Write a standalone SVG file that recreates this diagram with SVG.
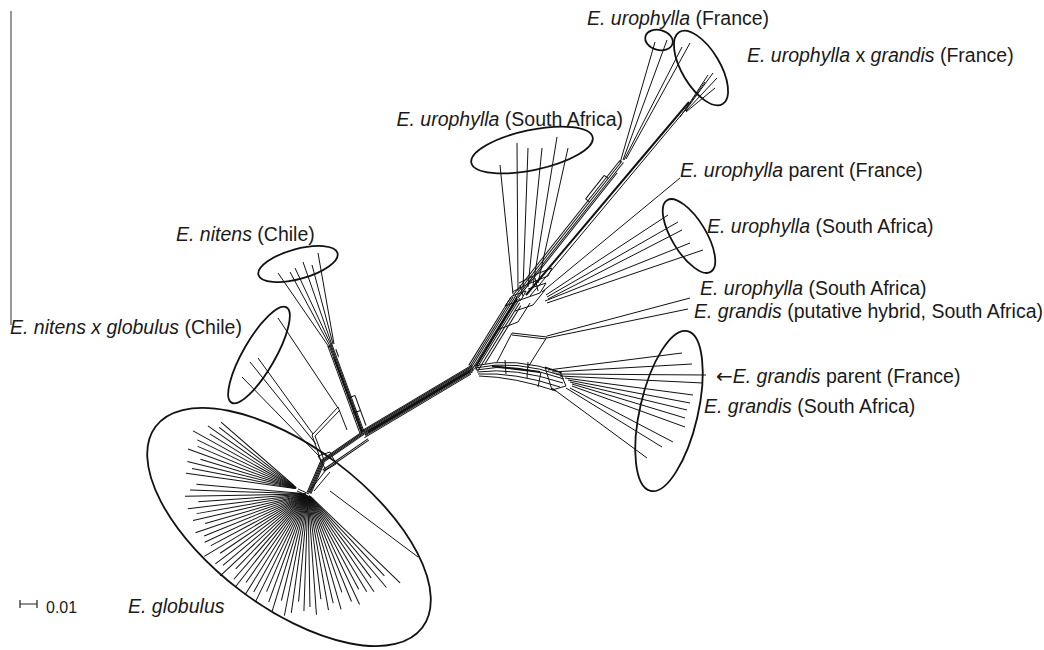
<svg xmlns="http://www.w3.org/2000/svg" width="1044" height="650" viewBox="0 0 1044 650">
<style>
.n{stroke:#111;stroke-width:1;fill:none}
.k{stroke:#111;stroke-width:2;fill:none}
.e{stroke:#111;stroke-width:1.8;fill:none}
.t{font-family:"Liberation Sans",Arial,sans-serif;font-size:19.5px;fill:#1a1a1a}
.i{font-style:italic}
</style>
<rect width="1044" height="650" fill="#fff"/>
<line x1="11" y1="11" x2="11" y2="325" stroke="#555" stroke-width="1.2"/>

<g id="connectors">
  <!-- globulus fan (main hub) -->
  <g class="n" transform="translate(308,494)">
    <line x1="3" x2="128" transform="rotate(44)"/>
    <line x1="5" x2="112" transform="rotate(47)"/>
    <line x1="2" x2="122" transform="rotate(50)"/>
    <line x1="6" x2="105" transform="rotate(53)"/>
    <line x1="3" x2="118" transform="rotate(56)"/>
    <line x1="4" x2="114" transform="rotate(59)"/>
    <line x1="2" x2="108" transform="rotate(62)"/>
    <line x1="5" x2="122" transform="rotate(65)"/>
    <line x1="3" x2="116" transform="rotate(68)"/>
    <line x1="6" x2="104" transform="rotate(71)"/>
    <line x1="2" x2="120" transform="rotate(74)"/>
    <line x1="4" x2="112" transform="rotate(77)"/>
    <line x1="3" x2="118" transform="rotate(80)"/>
    <line x1="5" x2="106" transform="rotate(83)"/>
    <line x1="2" x2="121" transform="rotate(86)"/>
    <line x1="4" x2="113" transform="rotate(89)"/>
    <line x1="3" x2="117" transform="rotate(92)"/>
    <line x1="6" x2="108" transform="rotate(95)"/>
    <line x1="2" x2="120" transform="rotate(98)"/>
    <line x1="4" x2="124" transform="rotate(101)"/>
    <line x1="3" x2="110" transform="rotate(104)"/>
    <line x1="5" x2="123" transform="rotate(107)"/>
    <line x1="2" x2="115" transform="rotate(110)"/>
    <line x1="6" x2="106" transform="rotate(113)"/>
    <line x1="3" x2="120" transform="rotate(116)"/>
    <line x1="4" x2="112" transform="rotate(119)"/>
    <line x1="2" x2="119" transform="rotate(122)"/>
    <line x1="5" x2="108" transform="rotate(125)"/>
    <line x1="3" x2="118" transform="rotate(128)"/>
    <line x1="4" x2="113" transform="rotate(131)"/>
    <line x1="6" x2="104" transform="rotate(134)"/>
    <line x1="2" x2="120" transform="rotate(137)"/>
    <line x1="4" x2="111" transform="rotate(140)"/>
    <line x1="3" x2="116" transform="rotate(143)"/>
    <line x1="5" x2="106" transform="rotate(146)"/>
    <line x1="2" x2="121" transform="rotate(149)"/>
    <line x1="4" x2="110" transform="rotate(152)"/>
    <line x1="3" x2="114" transform="rotate(155)"/>
    <line x1="5" x2="112" transform="rotate(158)"/>
    <line x1="2" x2="119" transform="rotate(161)"/>
    <line x1="4" x2="107" transform="rotate(164)"/>
    <line x1="3" x2="118" transform="rotate(167)"/>
    <line x1="5" x2="113" transform="rotate(170)"/>
    <line x1="2" x2="121" transform="rotate(173)"/>
    <line x1="4" x2="110" transform="rotate(176)"/>
    <line x1="3" x2="123" transform="rotate(179)"/>
    <line x1="5" x2="118" transform="rotate(182)"/>
    <line x1="2" x2="112" transform="rotate(185)"/>
  </g>
  <g class="n" transform="translate(298,489)">
    <line x1="3" x2="113" transform="rotate(188)"/>
    <line x1="2" x2="108" transform="rotate(191)"/>
    <line x1="4" x2="114" transform="rotate(194)"/>
    <line x1="2" x2="102" transform="rotate(197)"/>
    <line x1="3" x2="117" transform="rotate(200)"/>
    <line x1="5" x2="109" transform="rotate(203)"/>
    <line x1="2" x2="112" transform="rotate(206)"/>
    <line x1="3" x2="120" transform="rotate(209)"/>
    <line x1="4" x2="104" transform="rotate(212)"/>
    <line x1="2" x2="110" transform="rotate(215)"/>
    <line x1="3" x2="100" transform="rotate(218)"/>
    <line x1="5" x2="102" transform="rotate(221)"/>
  </g>
  <line class="n" x1="330" y1="491" x2="418" y2="557"/>
  <line class="n" x1="298" y1="489" x2="309" y2="494"/>
  <line class="n" x1="297" y1="491" x2="308" y2="496"/>

  <!-- hub to box -->
  <g class="n" transform="translate(309,493) rotate(-66.6)">
    <line x2="34" y1="-2" y2="-2"/><line x2="34" y1="-1" y2="-1"/><line x2="34"/><line x2="34" y1="1" y2="1"/><line x2="34" y1="2" y2="2"/>
  </g>
  <g class="n" transform="translate(322,462) rotate(-34.6)">
    <line x2="51" y1="-2" y2="-2"/><line x2="51" y1="-1" y2="-1"/><line x2="51"/><line x2="51" y1="1" y2="1"/>
    <line x1="-4" x2="51" y1="7" y2="7"/><line x1="-4" x2="51" y1="8.5" y2="8.5"/>
  </g>
  <path class="n" d="M321,461 L312,435 L338,407 L347,430"/>
  <path class="n" d="M324,460 L315,436 L340,410"/>
  <path class="n" d="M318,456 L330,452 L336,464 L326,470 Z"/>
  <line class="n" x1="311" y1="489" x2="326" y2="470"/>
  <line class="n" x1="314" y1="491" x2="330" y2="472"/>

  <!-- main stem -->
  <g class="n" transform="translate(364,433) rotate(-30.8)">
    <line x2="127" y1="-3" y2="-3"/><line x2="127" y1="-2" y2="-2"/><line x2="127" y1="-1" y2="-1"/><line x2="127"/><line x2="127" y1="1" y2="1"/><line x2="127" y1="2" y2="2"/><line x2="125" y1="3" y2="3"/><line x1="-2" x2="122" y1="4.2" y2="4.2"/>
  </g>
  <line x1="368" y1="432" x2="470" y2="371" stroke="#111" stroke-width="2.2"/>

  <!-- nitens stem -->
  <g class="n" transform="translate(330,345) rotate(69.8)">
    <line x2="93" y1="-2" y2="-2"/><line x2="93" y1="-1" y2="-1"/><line x2="93"/><line x2="93" y1="1" y2="1"/><line x2="93" y1="2.4" y2="2.4"/>
    <line x1="56" x2="88" y1="-6" y2="-6"/><line x1="56" x2="56" y1="-6" y2="2"/><line x1="72" x2="72" y1="-6" y2="2"/>
    <line x1="6" x2="14" y1="-4" y2="-4"/>
  </g>
  <line x1="334" y1="358" x2="362" y2="432" stroke="#111" stroke-width="1.6"/>

  <!-- nitens fan -->
  <g class="n">
    <line x1="278" y1="273" x2="329" y2="347"/>
    <line x1="290" y1="272" x2="330" y2="346"/>
    <line x1="295" y1="268" x2="331" y2="345"/>
    <line x1="303" y1="262" x2="332" y2="345"/>
    <line x1="312" y1="265" x2="333" y2="344"/>
    <line x1="318" y1="253" x2="334" y2="344"/>
  </g>

  <!-- nitens x globulus lines -->
  <g class="n">
    <line x1="278" y1="318" x2="338" y2="408"/>
    <line x1="258" y1="358" x2="313" y2="434"/>
    <line x1="250" y1="362" x2="316" y2="444"/>
    <line x1="242" y1="377" x2="320" y2="457"/>
  </g>

  <!-- up branch J3 -> P2 -->
  <g class="n" transform="translate(473,368) rotate(-58.3)">
    <line x2="80" y1="-5" y2="-5"/><line x2="82" y1="-3.3" y2="-3.3"/><line x2="84" y1="-1.7" y2="-1.7"/><line x2="84"/><line x2="82" y1="1.7" y2="1.7"/><line x2="84" y1="3.3" y2="3.3"/><line x2="80" y1="5.5" y2="5.5"/><line x1="10" x2="78" y1="8" y2="8"/>
  </g>
  <line x1="476" y1="366" x2="517" y2="298" stroke="#111" stroke-width="1.8"/>
  <!-- tangle near P2 -->
  <g class="n">
    <path d="M505,306 L521,300 L526,291 L512,296 Z"/>
    <path d="M512,292 L528,284 L533,276 L519,283"/>
    <path d="M520,300 L540,293 L546,283 L528,289"/>
    <path d="M528,284 L548,276 L552,268 L534,275"/>
    <path d="M497,330 L518,322 L530,303"/>
    <path d="M515,311 L533,305 L545,290"/>
    <line x1="523" y1="296" x2="520" y2="285"/>
    <line x1="538" y1="291" x2="535" y2="278"/>
  </g>
  <!-- thin bundle to France -->
  <g class="n" transform="translate(515,296) rotate(-51.6)">
    <line x2="172" y1="-2" y2="-2"/><line x2="172"/><line x2="172" y1="2" y2="2"/><line x2="160" y1="3.5" y2="3.5"/>
    <line x1="120" x2="150" y1="-5" y2="-5"/><line x1="120" x2="120" y1="-5" y2="0"/><line x1="150" x2="150" y1="-5" y2="0"/>
  </g>
  <line x1="526" y1="295" x2="689" y2="102" class="k"/>
  <line x1="530" y1="296" x2="687" y2="108" class="n"/>
  <!-- France / x grandis tips -->
  <g class="n">
    <line x1="620" y1="163" x2="655" y2="42"/>
    <line x1="623" y1="160" x2="667" y2="40"/>
    <line x1="624" y1="160" x2="682" y2="47"/>
    <line x1="626" y1="159" x2="690" y2="43"/>
    <line x1="685" y1="110" x2="708" y2="75"/>
    <line x1="685" y1="111" x2="713" y2="73"/>
    <line x1="686" y1="111" x2="717" y2="78"/>
    <line x1="686" y1="112" x2="715" y2="88"/>
    <line x1="680" y1="117" x2="705" y2="82"/>
  </g>
  <!-- urophylla SA (top) fan -->
  <g class="n">
    <line x1="500" y1="165" x2="513" y2="294"/>
    <line x1="517" y1="143" x2="518" y2="291"/>
    <line x1="528" y1="148" x2="523" y2="289"/>
    <line x1="542" y1="148" x2="528" y2="287"/>
    <line x1="557" y1="137" x2="533" y2="285"/>
    <line x1="568" y1="148" x2="538" y2="283"/>
  </g>
  <!-- urophylla SA (right) + parent -->
  <g class="n">
    <line x1="680" y1="178" x2="542" y2="292"/>
    <line x1="668" y1="215" x2="546" y2="295"/>
    <line x1="678" y1="222" x2="547" y2="297"/>
    <line x1="682" y1="230" x2="548" y2="299"/>
    <line x1="690" y1="243" x2="545" y2="301"/>
    <line x1="703" y1="250" x2="547" y2="303"/>
  </g>
  <!-- lower box & two singles -->
  <g class="n">
    <line x1="690" y1="298" x2="547" y2="336"/>
    <line x1="688" y1="309" x2="547" y2="338"/>
    <path d="M497,362 L512,333 L547,337 L528,367"/>
    <line x1="512" y1="335" x2="546" y2="339"/>
  </g>
  <!-- grandis band -->
  <g class="n">
    <path d="M474,366 Q515,356 562,373"/>
    <path d="M475,368 Q515,359 563,376"/>
    <path d="M476,370 Q515,362 564,379"/>
    <path d="M477,372 Q515,367 563,383"/>
    <path d="M478,374 Q515,372 560,387"/>
    <path d="M479,376 Q515,377 556,391"/>
    <line x1="505" y1="360" x2="506" y2="374"/>
    <line x1="528" y1="362" x2="527" y2="378"/>
    <path d="M545,367 L560,372 L566,386 L552,390 Z"/>
    <line x1="541" y1="372" x2="538" y2="387"/>
  </g>
  <line x1="492" y1="366" x2="540" y2="372" stroke="#111" stroke-width="1.8"/>
  <!-- grandis fan -->
  <g class="n">
    <line x1="548" y1="370" x2="682" y2="353"/>
    <line x1="552" y1="372" x2="692" y2="364"/>
    <line x1="556" y1="374" x2="706" y2="375"/>
    <line x1="560" y1="376" x2="703" y2="383"/>
    <line x1="565" y1="378" x2="693" y2="395"/>
    <line x1="568" y1="380" x2="690" y2="403"/>
    <line x1="570" y1="382" x2="687" y2="410"/>
    <line x1="572" y1="384" x2="685" y2="418"/>
    <line x1="572" y1="386" x2="685" y2="427"/>
    <line x1="570" y1="388" x2="673" y2="442"/>
    <line x1="566" y1="388" x2="662" y2="447"/>
    <line x1="552" y1="388" x2="647" y2="458"/>
  </g>
</g>

<g id="globulus"><ellipse class="e" cx="0" cy="0" rx="167" ry="80" transform="translate(289,527) rotate(37)"/><text class="t i" x="128" y="613">E. globulus</text></g>
<g id="nitens"><ellipse class="e" cx="0" cy="0" rx="41" ry="15" transform="translate(298,264) rotate(-15.5)"/><text class="t" x="176" y="241"><tspan class="i">E. nitens</tspan> (Chile)</text></g>
<g id="nitens-globulus"><ellipse class="e" cx="0" cy="0" rx="55" ry="16" transform="translate(259,355) rotate(-60)"/><text class="t" x="10" y="334"><tspan class="i">E. nitens x globulus</tspan> (Chile)</text></g>
<g id="urophylla-sa-top"><ellipse class="e" cx="0" cy="0" rx="62" ry="20" transform="translate(532,150) rotate(-12)"/><text class="t" x="623" y="126" text-anchor="end"><tspan class="i">E. urophylla</tspan> (South Africa)</text></g>
<g id="urophylla-france"><ellipse class="e" cx="0" cy="0" rx="14" ry="10" transform="translate(659,40) rotate(15)"/><text class="t" x="587" y="25"><tspan class="i">E. urophylla</tspan> (France)</text></g>
<g id="urophylla-x-grandis"><ellipse class="e" cx="0" cy="0" rx="42" ry="19" transform="translate(701,68) rotate(59)"/><text class="t" x="747" y="62"><tspan class="i">E. urophylla</tspan> x <tspan class="i">grandis</tspan> (France)</text></g>
<g id="urophylla-parent"><text class="t" x="680" y="177"><tspan class="i">E. urophylla</tspan> parent (France)</text></g>
<g id="urophylla-sa-right"><ellipse class="e" cx="0" cy="0" rx="42" ry="17" transform="translate(689,236) rotate(58.6)"/><text class="t" x="707" y="233"><tspan class="i">E. urophylla</tspan> (South Africa)</text></g>
<g id="urophylla-sa-single"><text class="t" x="700" y="295"><tspan class="i">E. urophylla</tspan> (South Africa)</text></g>
<g id="grandis-hybrid"><text class="t" x="694" y="318"><tspan class="i">E. grandis</tspan> (putative hybrid, South Africa)</text></g>
<g id="grandis-parent"><text class="t" x="716" y="383"><tspan style="font-family:'DejaVu Sans',sans-serif;font-size:20px">←</tspan><tspan class="i">E. grandis</tspan> parent (France)</text></g>
<g id="grandis-sa"><ellipse class="e" cx="0" cy="0" rx="82" ry="29" transform="translate(669,411) rotate(-77)"/><text class="t" x="704" y="413"><tspan class="i">E. grandis</tspan> (South Africa)</text></g>
<g id="scale"><path d="M20,604 H37 M20,600 V608 M37,600 V608" stroke="#222" stroke-width="1.2" fill="none"/><text x="46" y="613" style="font-family:'Liberation Sans',Arial,sans-serif;font-size:16px;fill:#1a1a1a">0.01</text></g>
</svg>
